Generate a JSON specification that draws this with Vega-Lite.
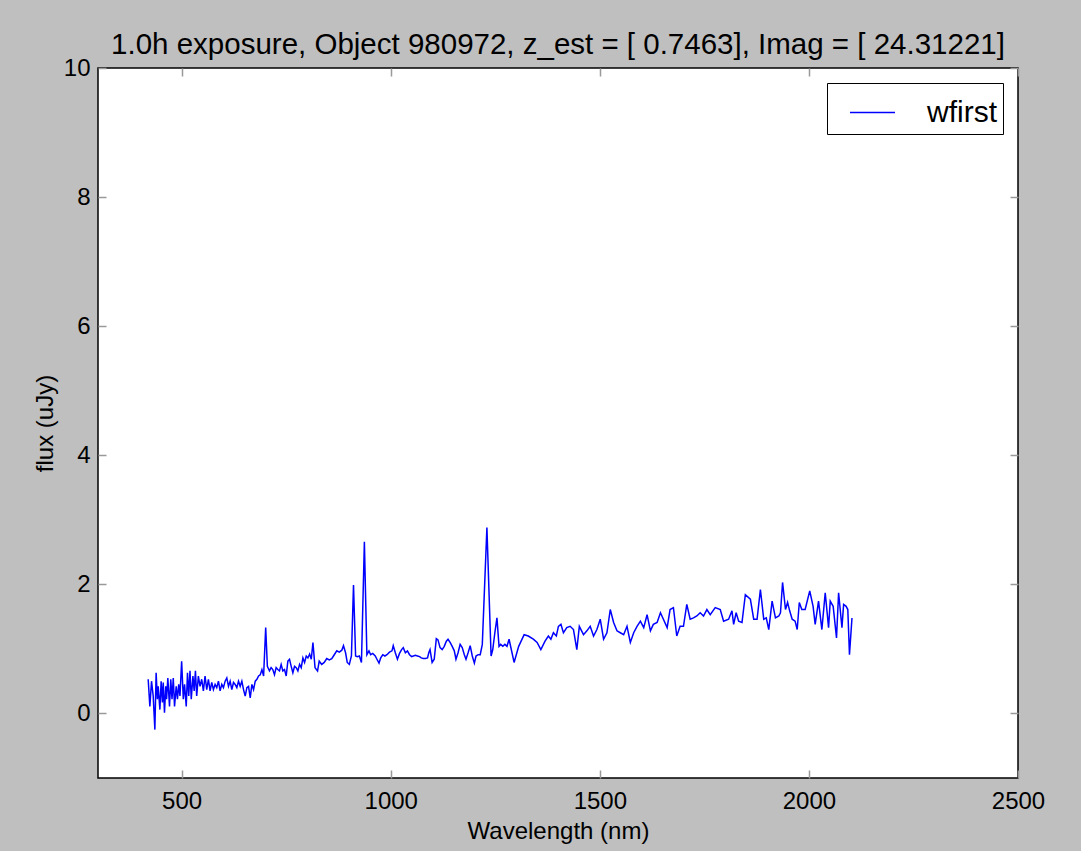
{
  "$schema": "https://vega.github.io/schema/vega-lite/v6.json",
  "width": 920,
  "height": 710,
  "autosize": {"type": "none"},
  "padding": {"left": 98, "top": 68, "right": 63, "bottom": 73},
  "background": "#bfbfbf",
  "config": {
    "font": "Liberation Sans",
    "view": {"fill": "white", "stroke": "black", "strokeWidth": 1.5}
  },
  "title": {
    "text": "1.0h exposure, Object 980972, z_est = [ 0.7463], Imag = [ 24.31221]",
    "fontSize": 29.5,
    "fontWeight": "normal",
    "color": "black",
    "anchor": "middle",
    "frame": "group",
    "offset": 10,
    "dy": 14
  },
  "data": {
    "values": [
      {"nm": 420, "flux": 0.53}, {"nm": 424, "flux": 0.11}, {"nm": 428, "flux": 0.5}, {"nm": 432, "flux": 0.27},
      {"nm": 436, "flux": -0.25}, {"nm": 439, "flux": 0.63}, {"nm": 442, "flux": 0.22}, {"nm": 444, "flux": 0.42},
      {"nm": 448, "flux": 0.06}, {"nm": 451, "flux": 0.5}, {"nm": 454, "flux": 0.17}, {"nm": 456, "flux": 0.48},
      {"nm": 459, "flux": 0.01}, {"nm": 462, "flux": 0.42}, {"nm": 464, "flux": 0.22}, {"nm": 467, "flux": 0.55},
      {"nm": 471, "flux": 0.11}, {"nm": 474, "flux": 0.53}, {"nm": 477, "flux": 0.22}, {"nm": 480, "flux": 0.55},
      {"nm": 483, "flux": 0.11}, {"nm": 487, "flux": 0.42}, {"nm": 490, "flux": 0.22}, {"nm": 493, "flux": 0.45},
      {"nm": 496, "flux": 0.27}, {"nm": 500, "flux": 0.81}, {"nm": 504, "flux": 0.22}, {"nm": 507, "flux": 0.45},
      {"nm": 511, "flux": 0.11}, {"nm": 514, "flux": 0.63}, {"nm": 517, "flux": 0.27}, {"nm": 520, "flux": 0.66},
      {"nm": 523, "flux": 0.22}, {"nm": 527, "flux": 0.58}, {"nm": 530, "flux": 0.35}, {"nm": 533, "flux": 0.66},
      {"nm": 536, "flux": 0.27}, {"nm": 540, "flux": 0.58}, {"nm": 544, "flux": 0.42}, {"nm": 548, "flux": 0.53},
      {"nm": 552, "flux": 0.35}, {"nm": 556, "flux": 0.58}, {"nm": 560, "flux": 0.37}, {"nm": 564, "flux": 0.53},
      {"nm": 568, "flux": 0.35}, {"nm": 572, "flux": 0.48}, {"nm": 576, "flux": 0.37}, {"nm": 580, "flux": 0.45},
      {"nm": 584, "flux": 0.4}, {"nm": 588, "flux": 0.5}, {"nm": 592, "flux": 0.35}, {"nm": 596, "flux": 0.45},
      {"nm": 600, "flux": 0.4}, {"nm": 604, "flux": 0.5}, {"nm": 608, "flux": 0.55}, {"nm": 612, "flux": 0.42},
      {"nm": 616, "flux": 0.5}, {"nm": 620, "flux": 0.37}, {"nm": 624, "flux": 0.48}, {"nm": 628, "flux": 0.45},
      {"nm": 632, "flux": 0.4}, {"nm": 636, "flux": 0.5}, {"nm": 640, "flux": 0.42}, {"nm": 644, "flux": 0.5},
      {"nm": 648, "flux": 0.37}, {"nm": 652, "flux": 0.27}, {"nm": 656, "flux": 0.4}, {"nm": 660, "flux": 0.42},
      {"nm": 664, "flux": 0.24}, {"nm": 668, "flux": 0.45}, {"nm": 672, "flux": 0.37}, {"nm": 676, "flux": 0.5},
      {"nm": 680, "flux": 0.53}, {"nm": 684, "flux": 0.58}, {"nm": 688, "flux": 0.6}, {"nm": 692, "flux": 0.68},
      {"nm": 696, "flux": 0.58}, {"nm": 701, "flux": 1.33}, {"nm": 705, "flux": 0.73}, {"nm": 710, "flux": 0.66},
      {"nm": 714, "flux": 0.71}, {"nm": 718, "flux": 0.68}, {"nm": 722, "flux": 0.6}, {"nm": 726, "flux": 0.71},
      {"nm": 730, "flux": 0.68}, {"nm": 734, "flux": 0.66}, {"nm": 738, "flux": 0.76}, {"nm": 742, "flux": 0.66},
      {"nm": 746, "flux": 0.68}, {"nm": 750, "flux": 0.58}, {"nm": 754, "flux": 0.81}, {"nm": 758, "flux": 0.84},
      {"nm": 762, "flux": 0.73}, {"nm": 766, "flux": 0.63}, {"nm": 770, "flux": 0.73}, {"nm": 774, "flux": 0.71},
      {"nm": 778, "flux": 0.66}, {"nm": 782, "flux": 0.76}, {"nm": 786, "flux": 0.71}, {"nm": 790, "flux": 0.86},
      {"nm": 794, "flux": 0.79}, {"nm": 798, "flux": 0.89}, {"nm": 802, "flux": 0.86}, {"nm": 806, "flux": 0.92},
      {"nm": 810, "flux": 0.84}, {"nm": 814, "flux": 1.1}, {"nm": 819, "flux": 0.71}, {"nm": 825, "flux": 0.66},
      {"nm": 829, "flux": 0.81}, {"nm": 835, "flux": 0.76}, {"nm": 841, "flux": 0.79}, {"nm": 847, "flux": 0.85},
      {"nm": 853, "flux": 0.83}, {"nm": 859, "flux": 0.85}, {"nm": 865, "flux": 0.91}, {"nm": 871, "flux": 0.97},
      {"nm": 877, "flux": 0.95}, {"nm": 883, "flux": 0.98}, {"nm": 887, "flux": 1.05}, {"nm": 892, "flux": 0.94},
      {"nm": 896, "flux": 0.79}, {"nm": 901, "flux": 0.76}, {"nm": 906, "flux": 0.89}, {"nm": 911, "flux": 1.99},
      {"nm": 916, "flux": 0.89}, {"nm": 920, "flux": 0.88}, {"nm": 925, "flux": 0.89}, {"nm": 930, "flux": 0.79},
      {"nm": 937, "flux": 2.66}, {"nm": 943, "flux": 0.91}, {"nm": 948, "flux": 0.97}, {"nm": 952, "flux": 0.91},
      {"nm": 957, "flux": 0.93}, {"nm": 963, "flux": 0.89}, {"nm": 967, "flux": 0.84}, {"nm": 972, "flux": 0.78},
      {"nm": 976, "flux": 0.86}, {"nm": 981, "flux": 0.91}, {"nm": 986, "flux": 0.89}, {"nm": 991, "flux": 0.91},
      {"nm": 997, "flux": 0.95}, {"nm": 1003, "flux": 0.97}, {"nm": 1006, "flux": 1.05}, {"nm": 1011, "flux": 0.94},
      {"nm": 1016, "flux": 0.84}, {"nm": 1021, "flux": 0.93}, {"nm": 1026, "flux": 0.99}, {"nm": 1030, "flux": 1.02},
      {"nm": 1035, "flux": 0.94}, {"nm": 1040, "flux": 0.97}, {"nm": 1045, "flux": 0.91}, {"nm": 1050, "flux": 0.88},
      {"nm": 1054, "flux": 0.89}, {"nm": 1059, "flux": 0.9}, {"nm": 1064, "flux": 0.89}, {"nm": 1069, "flux": 0.88},
      {"nm": 1073, "flux": 0.86}, {"nm": 1078, "flux": 0.85}, {"nm": 1083, "flux": 0.85}, {"nm": 1088, "flux": 0.86},
      {"nm": 1091, "flux": 0.94}, {"nm": 1094, "flux": 0.99}, {"nm": 1099, "flux": 0.79}, {"nm": 1104, "flux": 0.84},
      {"nm": 1109, "flux": 1.16}, {"nm": 1113, "flux": 1.14}, {"nm": 1118, "flux": 1.02}, {"nm": 1123, "flux": 0.99},
      {"nm": 1128, "flux": 1.04}, {"nm": 1133, "flux": 1.12}, {"nm": 1137, "flux": 1.15}, {"nm": 1142, "flux": 1.1},
      {"nm": 1147, "flux": 1.04}, {"nm": 1152, "flux": 0.97}, {"nm": 1156, "flux": 0.84}, {"nm": 1161, "flux": 0.94},
      {"nm": 1166, "flux": 1.07}, {"nm": 1171, "flux": 1.02}, {"nm": 1176, "flux": 0.91}, {"nm": 1180, "flux": 0.84},
      {"nm": 1185, "flux": 0.94}, {"nm": 1190, "flux": 1.05}, {"nm": 1195, "flux": 0.89}, {"nm": 1200, "flux": 0.78},
      {"nm": 1204, "flux": 0.89}, {"nm": 1209, "flux": 0.91}, {"nm": 1214, "flux": 0.91}, {"nm": 1219, "flux": 1.07},
      {"nm": 1230, "flux": 2.88}, {"nm": 1240, "flux": 0.89}, {"nm": 1244, "flux": 0.99}, {"nm": 1249, "flux": 1.25},
      {"nm": 1254, "flux": 1.48}, {"nm": 1259, "flux": 1.04}, {"nm": 1263, "flux": 1.07}, {"nm": 1268, "flux": 1.04},
      {"nm": 1273, "flux": 1.07}, {"nm": 1278, "flux": 1.04}, {"nm": 1283, "flux": 1.15}, {"nm": 1295, "flux": 0.79},
      {"nm": 1306, "flux": 1.04}, {"nm": 1319, "flux": 1.22}, {"nm": 1329, "flux": 1.2}, {"nm": 1341, "flux": 1.15},
      {"nm": 1350, "flux": 1.1}, {"nm": 1359, "flux": 0.99}, {"nm": 1369, "flux": 1.12}, {"nm": 1377, "flux": 1.2},
      {"nm": 1383, "flux": 1.15}, {"nm": 1389, "flux": 1.25}, {"nm": 1396, "flux": 1.2}, {"nm": 1401, "flux": 1.35},
      {"nm": 1407, "flux": 1.38}, {"nm": 1413, "flux": 1.25}, {"nm": 1421, "flux": 1.33}, {"nm": 1429, "flux": 1.35},
      {"nm": 1437, "flux": 1.3}, {"nm": 1445, "flux": 0.99}, {"nm": 1451, "flux": 1.35}, {"nm": 1461, "flux": 1.22},
      {"nm": 1469, "flux": 1.28}, {"nm": 1477, "flux": 1.35}, {"nm": 1485, "flux": 1.2}, {"nm": 1493, "flux": 1.3},
      {"nm": 1501, "flux": 1.46}, {"nm": 1509, "flux": 1.15}, {"nm": 1517, "flux": 1.25}, {"nm": 1525, "flux": 1.61},
      {"nm": 1533, "flux": 1.41}, {"nm": 1541, "flux": 1.28}, {"nm": 1549, "flux": 1.25}, {"nm": 1557, "flux": 1.22},
      {"nm": 1565, "flux": 1.35}, {"nm": 1573, "flux": 1.1}, {"nm": 1581, "flux": 1.25}, {"nm": 1589, "flux": 1.35},
      {"nm": 1597, "flux": 1.43}, {"nm": 1605, "flux": 1.33}, {"nm": 1613, "flux": 1.53}, {"nm": 1621, "flux": 1.28},
      {"nm": 1628, "flux": 1.38}, {"nm": 1637, "flux": 1.41}, {"nm": 1645, "flux": 1.56}, {"nm": 1652, "flux": 1.46},
      {"nm": 1661, "flux": 1.33}, {"nm": 1668, "flux": 1.61}, {"nm": 1676, "flux": 1.64}, {"nm": 1684, "flux": 1.2},
      {"nm": 1692, "flux": 1.35}, {"nm": 1700, "flux": 1.35}, {"nm": 1708, "flux": 1.69}, {"nm": 1716, "flux": 1.46},
      {"nm": 1724, "flux": 1.48}, {"nm": 1732, "flux": 1.51}, {"nm": 1740, "flux": 1.56}, {"nm": 1748, "flux": 1.51},
      {"nm": 1756, "flux": 1.61}, {"nm": 1764, "flux": 1.53}, {"nm": 1776, "flux": 1.64}, {"nm": 1788, "flux": 1.61},
      {"nm": 1796, "flux": 1.43}, {"nm": 1808, "flux": 1.46}, {"nm": 1816, "flux": 1.59}, {"nm": 1820, "flux": 1.38},
      {"nm": 1826, "flux": 1.56}, {"nm": 1832, "flux": 1.43}, {"nm": 1840, "flux": 1.41}, {"nm": 1848, "flux": 1.84},
      {"nm": 1860, "flux": 1.77}, {"nm": 1868, "flux": 1.46}, {"nm": 1876, "flux": 1.46}, {"nm": 1884, "flux": 1.92},
      {"nm": 1892, "flux": 1.46}, {"nm": 1898, "flux": 1.48}, {"nm": 1904, "flux": 1.3}, {"nm": 1912, "flux": 1.74},
      {"nm": 1920, "flux": 1.48}, {"nm": 1928, "flux": 1.51}, {"nm": 1932, "flux": 1.56}, {"nm": 1937, "flux": 2.03},
      {"nm": 1944, "flux": 1.61}, {"nm": 1949, "flux": 1.72}, {"nm": 1954, "flux": 1.59}, {"nm": 1960, "flux": 1.46},
      {"nm": 1967, "flux": 1.43}, {"nm": 1972, "flux": 1.3}, {"nm": 1977, "flux": 1.72}, {"nm": 1983, "flux": 1.61},
      {"nm": 1991, "flux": 1.61}, {"nm": 2002, "flux": 1.9}, {"nm": 2010, "flux": 1.66}, {"nm": 2015, "flux": 1.38},
      {"nm": 2023, "flux": 1.74}, {"nm": 2031, "flux": 1.3}, {"nm": 2039, "flux": 1.87}, {"nm": 2047, "flux": 1.33},
      {"nm": 2051, "flux": 1.74}, {"nm": 2058, "flux": 1.66}, {"nm": 2066, "flux": 1.17}, {"nm": 2071, "flux": 1.87},
      {"nm": 2079, "flux": 1.33}, {"nm": 2083, "flux": 1.69}, {"nm": 2089, "flux": 1.66}, {"nm": 2093, "flux": 1.61},
      {"nm": 2097, "flux": 0.91}, {"nm": 2103, "flux": 1.48}
    ]
  },
  "layer": [
    {
      "mark": {"type": "line", "strokeWidth": 1.5, "clip": true},
      "encoding": {
        "x": {
          "field": "nm",
          "type": "quantitative",
          "scale": {"domain": [300, 2500], "nice": false, "zero": false},
          "axis": {
            "orient": "bottom",
            "title": "Wavelength (nm)",
            "values": [500, 1000, 1500, 2000, 2500],
            "format": "d",
            "domain": false,
            "grid": false,
            "tickSize": -8,
            "tickColor": "#999999",
            "tickWidth": 1.5,
            "labelPadding": 19,
            "labelFontSize": 24,
            "labelColor": "black",
            "labelFlush": false,
            "titleFontSize": 24,
            "titleFontWeight": "normal",
            "titleColor": "black",
            "titlePadding": 6
          }
        },
        "y": {
          "field": "flux",
          "type": "quantitative",
          "scale": {"domain": [-1, 10], "nice": false, "zero": false},
          "axis": {
            "orient": "left",
            "title": "flux (uJy)",
            "values": [0, 2, 4, 6, 8, 10],
            "domain": false,
            "grid": false,
            "tickSize": -8,
            "tickColor": "#999999",
            "tickWidth": 1.5,
            "labelPadding": 16,
            "labelFontSize": 24,
            "labelColor": "black",
            "labelFlush": false,
            "titleFontSize": 24,
            "titleFontWeight": "normal",
            "titleColor": "black",
            "titlePadding": 6
          }
        },
        "color": {
          "datum": "wfirst",
          "scale": {"range": ["#0000ff"]},
          "legend": {
            "title": null,
            "orient": "top-right",
            "offset": 15,
            "padding": 6,
            "strokeColor": "black",
            "fillColor": "white",
            "symbolType": "stroke",
            "symbolSize": 2025,
            "symbolStrokeWidth": 1.5,
            "symbolOffset": 16,
            "labelFontSize": 30,
            "labelColor": "black",
            "labelOffset": 31
          }
        }
      }
    },
    {
      "mark": {"type": "line", "strokeOpacity": 0},
      "encoding": {
        "x": {
          "field": "nm",
          "type": "quantitative",
          "axis": {
            "orient": "top",
            "title": null,
            "labels": false,
            "values": [500, 1000, 1500, 2000, 2500],
            "domain": false,
            "grid": false,
            "tickSize": -8,
            "tickColor": "#999999",
            "tickWidth": 1.5
          }
        },
        "y": {
          "field": "flux",
          "type": "quantitative",
          "axis": {
            "orient": "right",
            "title": null,
            "labels": false,
            "values": [0, 2, 4, 6, 8, 10],
            "domain": false,
            "grid": false,
            "tickSize": -8,
            "tickColor": "#999999",
            "tickWidth": 1.5
          }
        }
      }
    }
  ],
  "resolve": {"axis": {"x": "independent", "y": "independent"}}
}
